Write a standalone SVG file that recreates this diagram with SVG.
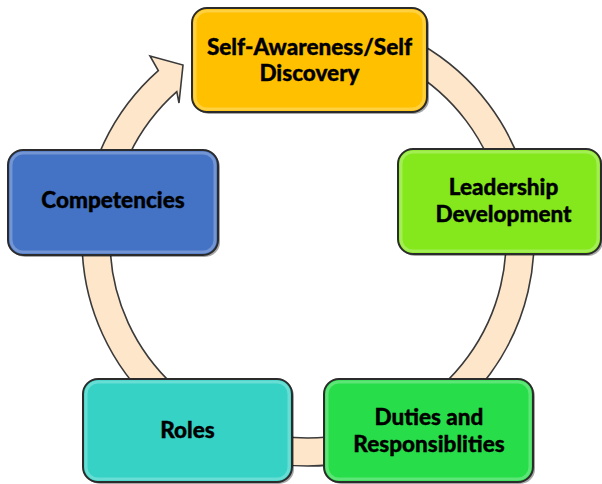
<svg xmlns="http://www.w3.org/2000/svg" width="602" height="484" viewBox="0 0 602 484">
<defs>
<filter id="glow" x="-50%" y="-10%" width="200%" height="120%"><feGaussianBlur stdDeviation="0.8"/></filter>
<style>
.box{stroke:#2b2b2b;stroke-width:2}
.shadow{fill:#000;opacity:0.35}
.inner{fill:none;stroke:#fff;stroke-opacity:0.25;stroke-width:3}
.hl{stroke-width:4;stroke-linecap:round;filter:url(#glow)}
.lbl{font-family:Lato,"Open Sans","Liberation Sans",sans-serif;font-weight:900;font-size:22.5px;fill:#000;stroke:#000;stroke-width:0.35;text-anchor:middle}
.ring{fill:#FEE6CA;stroke:#3a3a3a;stroke-width:1.6;stroke-linejoin:miter}
</style>
</defs>
<rect width="602" height="484" fill="#fff"/>
<g id="connectors">
<path class="ring" d="M421,44.3 A226,226 0 1 1 158.3,70.7 L150,56 L183,65 L179,103 L176.8,91.7 A198,198 0 1 0 407,68.5 Z"/>
</g>
<g id="node-self">
<rect class="shadow" x="194" y="10" width="235" height="104" rx="15"/>
<rect class="box" x="192" y="8" width="235" height="104" rx="15" fill="#FFC000"/>
<rect class="inner" x="195" y="11" width="229" height="98" rx="12"/>
<line class="hl" x1="203" y1="22" x2="203" y2="96" stroke="#FFFFA0"/>
<line class="hl" x1="414" y1="24" x2="414" y2="98" stroke="#FFF590"/>
<text class="lbl" x="309.5" y="55">Self-Awareness/Self</text>
<text class="lbl" x="309.5" y="80.5">Discovery</text>
</g>
<g id="node-leadership">
<rect class="shadow" x="400" y="151" width="203" height="105" rx="15"/>
<rect class="box" x="398" y="149" width="203" height="105" rx="15" fill="#84E81C"/>
<rect class="inner" x="401" y="152" width="197" height="99" rx="12"/>
<line class="hl" x1="410" y1="164" x2="410" y2="238" stroke="#EEFFC0"/>
<line class="hl" x1="593" y1="166" x2="593" y2="240" stroke="#E6FFB0"/>
<text class="lbl" x="503.5" y="195">Leadership</text>
<text class="lbl" x="503.5" y="221.5">Development</text>
</g>
<g id="node-competencies">
<rect class="shadow" x="10" y="152" width="210" height="105" rx="15"/>
<rect class="box" x="8" y="150" width="210" height="105" rx="15" fill="#4472C4"/>
<rect class="inner" x="11" y="153" width="204" height="99" rx="12"/>
<line class="hl" x1="20" y1="165" x2="20" y2="239" stroke="#D0E6FF"/>
<line class="hl" x1="205" y1="167" x2="205" y2="241" stroke="#C8E0FF"/>
<text class="lbl" x="113" y="208">Competencies</text>
</g>
<g id="node-roles">
<rect class="shadow" x="85" y="381" width="209" height="103" rx="15"/>
<rect class="box" x="83" y="379" width="209" height="103" rx="15" fill="#35D2C5"/>
<rect class="inner" x="86" y="382" width="203" height="97" rx="12"/>
<line class="hl" x1="95" y1="394" x2="95" y2="467" stroke="#E0FFFF"/>
<line class="hl" x1="279" y1="396" x2="279" y2="469" stroke="#E0FFFF"/>
<text class="lbl" x="187.5" y="438">Roles</text>
</g>
<g id="node-duties">
<rect class="shadow" x="326" y="381" width="209" height="103" rx="15"/>
<rect class="box" x="324" y="379" width="209" height="103" rx="15" fill="#28DD4A"/>
<rect class="inner" x="327" y="382" width="203" height="97" rx="12"/>
<line class="hl" x1="336" y1="394" x2="336" y2="467" stroke="#D0FFD0"/>
<line class="hl" x1="520" y1="396" x2="520" y2="469" stroke="#C8FFC8"/>
<text class="lbl" x="429" y="425">Duties and</text>
<text class="lbl" x="429" y="452">Responsiblities</text>
</g>
</svg>
